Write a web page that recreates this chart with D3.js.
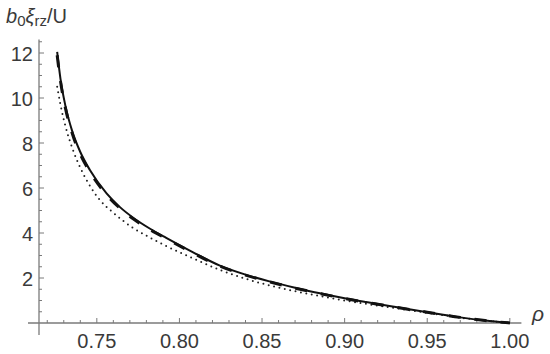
<!DOCTYPE html>
<html>
<head>
<meta charset="utf-8">
<script src="https://cdnjs.cloudflare.com/ajax/libs/d3/7.8.5/d3.min.js"></script>
<style>
body { margin: 0; background: #fff; }
svg { display: block; font-family: "Liberation Sans", Arial, sans-serif; }
</style>
</head>
<body>
<svg></svg>
<script>
var width = 550,
	height = 354;

// values
var rhoSolid = [0.726, 0.728, 0.731, 0.735, 0.740, 0.7458, 0.7559, 0.764, 0.772, 0.782, 0.792, 0.808, 0.8245, 0.840, 0.855, 0.870, 0.885, 0.900, 0.913, 0.930, 0.950, 0.970, 0.985, 1.000];
var solidVals = [12.05, 10.85, 9.65, 8.55, 7.6, 6.8, 5.76, 5.15, 4.68, 4.2, 3.78, 3.15, 2.55, 2.15, 1.84, 1.57, 1.32, 1.1, 0.93, 0.72, 0.48, 0.25, 0.11, 0.0];
var dashedVals = [11.9, 10.75, 9.55, 8.45, 7.5, 6.72, 5.7, 5.1, 4.63, 4.16, 3.75, 3.12, 2.53, 2.13, 1.82, 1.55, 1.31, 1.09, 0.92, 0.71, 0.48, 0.25, 0.11, 0.0];
var rhoDotted = [0.726, 0.728, 0.731, 0.735, 0.740, 0.7458, 0.752, 0.760, 0.772, 0.782, 0.792, 0.808, 0.8245, 0.840, 0.855, 0.870, 0.885, 0.900, 0.913, 0.930, 0.950, 0.975, 1.000];
var dottedVals = [10.5, 9.7, 8.75, 7.8, 6.9, 6.1, 5.45, 4.9, 4.22, 3.8, 3.42, 2.88, 2.36, 1.97, 1.66, 1.41, 1.2, 1.0, 0.85, 0.67, 0.45, 0.19, 0.0];

var xTicks = [0.75, 0.80, 0.85, 0.90, 0.95, 1.00];
var yTicks = [2, 4, 6, 8, 10, 12];

var svg = d3.select("svg")
	.attr("width", width)
	.attr("height", height);

var x = d3.scaleLinear().domain([0.715, 1.007]).range([39, 521.4]);
var y = d3.scaleLinear().domain([0, 12.6]).range([323, 39.5]);

var axisColor = "#7a7a7a",
	textColor = "#3a3a3a";

var ax = svg.append("g");

// axis lines (Mathematica style, crossing at origin)
ax.append("line")
	.attr("x1", 28).attr("x2", x(1.007))
	.attr("y1", y(0)).attr("y2", y(0))
	.attr("stroke", axisColor).attr("stroke-width", 1.3);
ax.append("line")
	.attr("x1", x(0.715)).attr("x2", x(0.715))
	.attr("y1", 335).attr("y2", y(12.6))
	.attr("stroke", axisColor).attr("stroke-width", 1.3);

// minor and major ticks
var xMinor = d3.range(72, 101).map(function(d) { return d / 100; });
ax.selectAll(".xt")
	.data(xMinor)
	.enter()
	.append("line")
	.attr("x1", function(d) { return x(d); })
	.attr("x2", function(d) { return x(d); })
	.attr("y1", y(0))
	.attr("y2", function(d) { return y(0) - (Math.round(d * 100) % 5 === 0 ? 5 : 3); })
	.attr("stroke", axisColor).attr("stroke-width", 1);

var yMinor = d3.range(1, 26).map(function(d) { return d / 2; });
ax.selectAll(".yt")
	.data(yMinor)
	.enter()
	.append("line")
	.attr("x1", x(0.715))
	.attr("x2", function(d) { return x(0.715) + (d % 2 === 0 ? 5 : 3); })
	.attr("y1", function(d) { return y(d); })
	.attr("y2", function(d) { return y(d); })
	.attr("stroke", axisColor).attr("stroke-width", 1);

ax.selectAll(".xl")
	.data(xTicks)
	.enter()
	.append("text")
	.attr("x", function(d) { return x(d); })
	.attr("y", 348)
	.attr("text-anchor", "middle")
	.attr("font-size", 20)
	.attr("fill", textColor)
	.text(function(d) { return d3.format(".2f")(d); });

ax.selectAll(".yl")
	.data(yTicks)
	.enter()
	.append("text")
	.attr("x", 33)
	.attr("y", function(d) { return y(d) + 7.5; })
	.attr("text-anchor", "end")
	.attr("font-size", 20)
	.attr("fill", textColor)
	.text(function(d) { return d; });

// axis titles
var yt = svg.append("text")
	.attr("x", 6)
	.attr("y", 23)
	.attr("font-size", 20)
	.attr("fill", textColor);
yt.append("tspan").attr("font-style", "italic").text("b");
yt.append("tspan").attr("font-size", 15).attr("dy", 3).text("0");
yt.append("tspan").attr("font-style", "italic").attr("dy", -3).text("ξ");
yt.append("tspan").attr("font-size", 15).attr("dy", 3).text("rz");
yt.append("tspan").attr("dy", -3).text("/U");

svg.append("text")
	.attr("x", 532)
	.attr("y", 321)
	.attr("font-size", 21)
	.attr("font-style", "italic")
	.attr("fill", textColor)
	.text("ρ");

// curves
var line = d3.line()
	.x(function(d) { return x(d[0]); })
	.y(function(d) { return y(d[1]); })
	.curve(d3.curveMonotoneX);

var solid = rhoSolid.map(function(r, i) { return [r, solidVals[i]]; });
var dashed = rhoSolid.map(function(r, i) { return [r, dashedVals[i]]; });
var dotted = rhoDotted.map(function(r, i) { return [r, dottedVals[i]]; });

svg.append("path")
	.attr("d", line(dotted))
	.attr("fill", "none")
	.attr("stroke", "#222")
	.attr("stroke-width", 2)
	.attr("stroke-linecap", "round")
	.attr("stroke-dasharray", "0,5.5");

svg.append("path")
	.attr("d", line(solid))
	.attr("fill", "none")
	.attr("stroke", "#111")
	.attr("stroke-width", 2);

svg.append("path")
	.attr("d", line(dashed))
	.attr("fill", "none")
	.attr("stroke", "#111")
	.attr("stroke-width", 3)
	.attr("stroke-dasharray", "12,14");
</script>
</body>
</html>
